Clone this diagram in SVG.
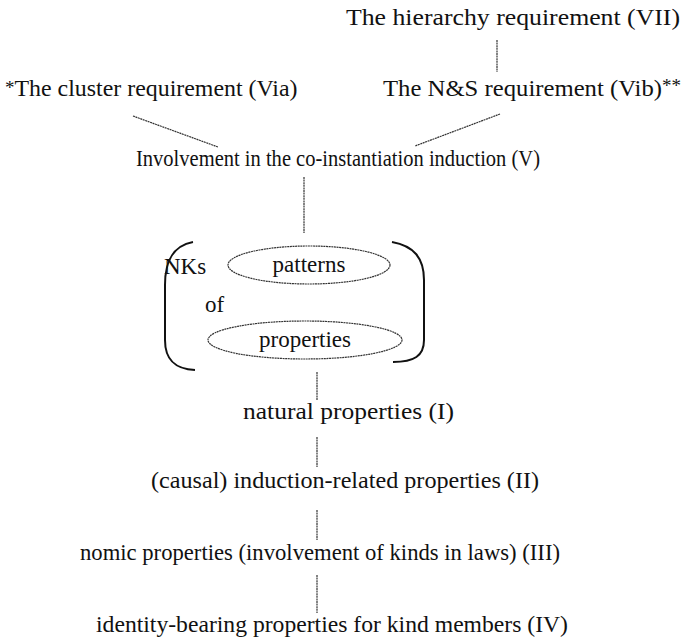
<svg xmlns="http://www.w3.org/2000/svg" width="691" height="639" viewBox="0 0 691 639">
  <style>
    text { font-family: "Liberation Serif", "DejaVu Serif", serif; font-size: 23px; fill: #111; }
    .sup { font-size: 19px; }
    .link { stroke: #333; stroke-width: 1.2; fill: none; stroke-dasharray: 2 0.6; }
    .bracket { stroke: #111; stroke-width: 2; fill: none; }
    .oval { stroke: #333; stroke-width: 1.2; fill: none; stroke-dasharray: 2 0.6; }
  </style>
  <rect width="691" height="639" fill="#fff"/>

  <!-- connectors -->
  <g id="connectors">
    <line class="link" x1="497" y1="40" x2="497" y2="72"/>
    <line class="link" x1="133" y1="116" x2="218" y2="147"/>
    <line class="link" x1="500" y1="114" x2="415" y2="146"/>
    <line class="link" x1="304" y1="177" x2="304" y2="233"/>
    <line class="link" x1="317" y1="372" x2="317" y2="400"/>
    <line class="link" x1="317" y1="437" x2="317" y2="467"/>
    <line class="link" x1="317" y1="510" x2="317" y2="540"/>
    <line class="link" x1="317" y1="575" x2="317" y2="613"/>
  </g>

  <g id="node-vii">
    <text x="346" y="25" textLength="334" lengthAdjust="spacingAndGlyphs">The hierarchy requirement  (VII)</text>
  </g>
  <g id="node-via">
    <text x="5" y="96"><tspan class="sup" dy="-2">*</tspan><tspan dy="2" textLength="283" lengthAdjust="spacingAndGlyphs">The cluster requirement  (Via)</tspan></text>
  </g>
  <g id="node-vib">
    <text x="383" y="96"><tspan textLength="279" lengthAdjust="spacingAndGlyphs">The N&amp;S requirement  (Vib)</tspan><tspan class="sup" dy="-4">**</tspan></text>
  </g>
  <g id="node-v">
    <text x="136" y="166" font-size="22" textLength="404" lengthAdjust="spacingAndGlyphs">Involvement in the co-instantiation induction  (V)</text>
  </g>

  <!-- bracketed block: NKs of patterns of properties -->
  <g id="node-nks">
    <path class="bracket" d="M193,242 C172,246 165,262 165,285 L165,340 C165,360 175,369 195,370"/>
    <path class="bracket" d="M392,242 C414,246 424,258 424,280 L424,340 C424,356 414,362 393,362"/>
    <text x="164" y="274" font-size="22">NKs</text>
    <ellipse class="oval" cx="309" cy="265" rx="81" ry="19"/>
    <text x="309" y="272" font-size="22" text-anchor="middle">patterns</text>
    <text x="205" y="312" font-size="25">of</text>
    <ellipse class="oval" cx="305" cy="340" rx="97" ry="19"/>
    <text x="305" y="347" font-size="22" text-anchor="middle">properties</text>
  </g>

  <g id="node-i">
    <text x="243" y="419" textLength="211" lengthAdjust="spacingAndGlyphs">natural properties   (I)</text>
  </g>
  <g id="node-ii">
    <text x="151" y="488" textLength="388" lengthAdjust="spacingAndGlyphs">(causal)  induction-related properties (II)</text>
  </g>
  <g id="node-iii">
    <text x="80" y="560" textLength="480" lengthAdjust="spacingAndGlyphs">nomic properties (involvement of kinds in laws) (III)</text>
  </g>
  <g id="node-iv">
    <text x="96" y="632" textLength="472" lengthAdjust="spacingAndGlyphs">identity-bearing properties for kind members  (IV)</text>
  </g>
</svg>
